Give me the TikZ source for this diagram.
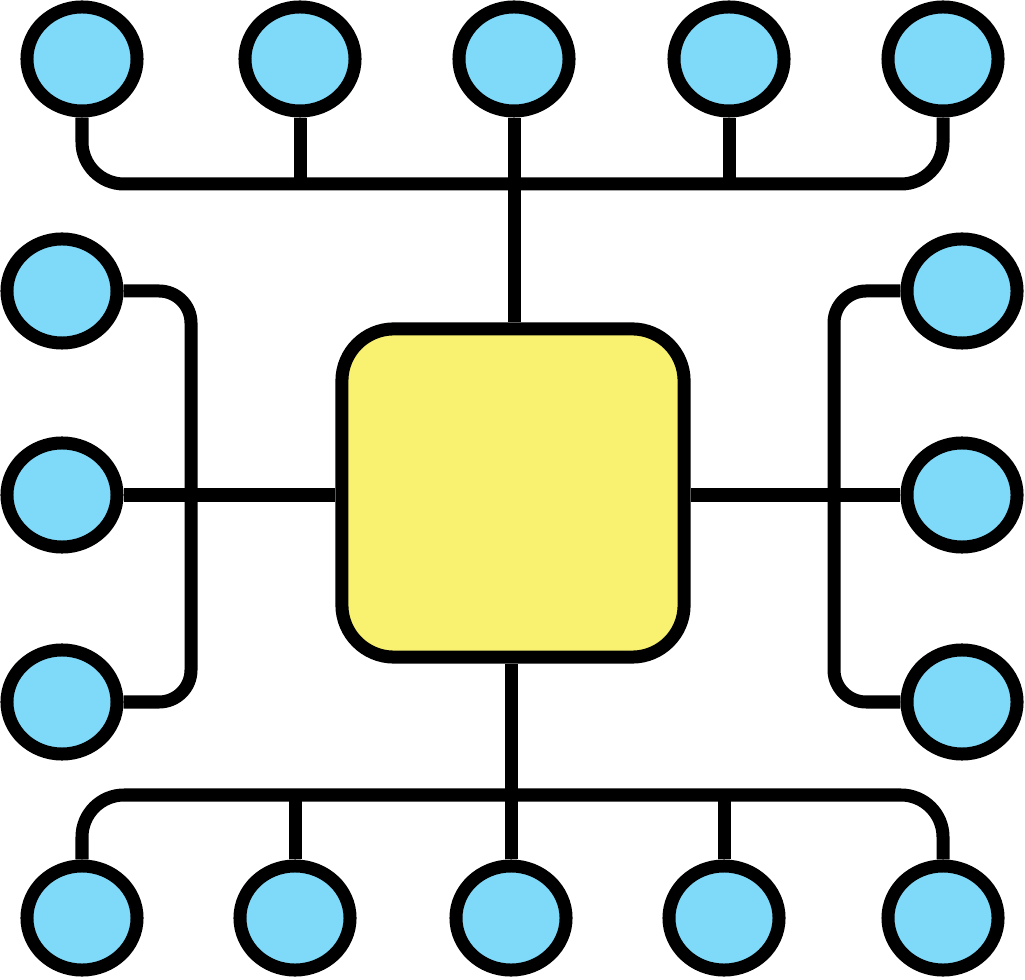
\documentclass[tikz,border=0pt]{standalone}
\usetikzlibrary{shapes.geometric}

\definecolor{nodeblue}{HTML}{7FD9F8}
\definecolor{hubyellow}{HTML}{F9F270}

\tikzset{
  wire/.style={line width=0.13cm},
  leaf/.style={ellipse, draw, line width=0.13cm, fill=nodeblue, inner sep=0pt,
    minimum width=1.1cm, minimum height=1.04cm},
  hubbox/.style={rectangle, draw, line width=0.13cm, fill=hubyellow, rounded corners=0.52cm,
    minimum width=3.42cm, minimum height=3.28cm}
}

\begin{document}
\begin{tikzpicture}[x=0.01cm,y=-0.01cm]

\useasboundingbox (0,0) rectangle (1025,980);

\coordinate (topbus) at (0,184);
\coordinate (botbus) at (0,795);
\coordinate (leftbus) at (191,0);
\coordinate (rightbus) at (834,0);

\node[hubbox] (hub) at (513,493) {};

\node[leaf] (t1) at (82,59) {};
\node[leaf] (t2) at (300,59) {};
\node[leaf] (t3) at (514,59) {};
\node[leaf] (t4) at (729,59) {};
\node[leaf] (t5) at (943,59) {};

\node[leaf] (l1) at (62,291) {};
\node[leaf] (l2) at (62,495) {};
\node[leaf] (l3) at (62,702) {};

\node[leaf] (r1) at (962,291) {};
\node[leaf] (r2) at (962,495) {};
\node[leaf] (r3) at (962,702) {};

\node[leaf] (b1) at (82,918) {};
\node[leaf] (b2) at (295,918) {};
\node[leaf] (b3) at (511,918) {};
\node[leaf] (b4) at (724,918) {};
\node[leaf] (b5) at (943,918) {};

% top
\draw[wire, rounded corners=0.42cm] (t1.south) -- (t1.south |- topbus) -- (t5.south |- topbus) -- (t5.south);
\draw[wire] (t2.south) -- (t2.south |- topbus);
\draw[wire] (t4.south) -- (t4.south |- topbus);
\draw[wire] (t3.south) -- (t3.south |- hub.north);

% bottom
\draw[wire, rounded corners=0.42cm] (b1.north) -- (b1.north |- botbus) -- (b5.north |- botbus) -- (b5.north);
\draw[wire] (b2.north) -- (b2.north |- botbus);
\draw[wire] (b4.north) -- (b4.north |- botbus);
\draw[wire] (b3.north) -- (b3.north |- hub.south);

% left
\draw[wire, rounded corners=0.32cm] (l1.east) -- (l1.east -| leftbus) -- (l3.east -| leftbus) -- (l3.east);
\draw[wire] (l2.east) -- (l2.east -| hub.west);

% right
\draw[wire, rounded corners=0.32cm] (r1.west) -- (r1.west -| rightbus) -- (r3.west -| rightbus) -- (r3.west);
\draw[wire] (r2.west) -- (r2.west -| hub.east);

\end{tikzpicture}
\end{document}
